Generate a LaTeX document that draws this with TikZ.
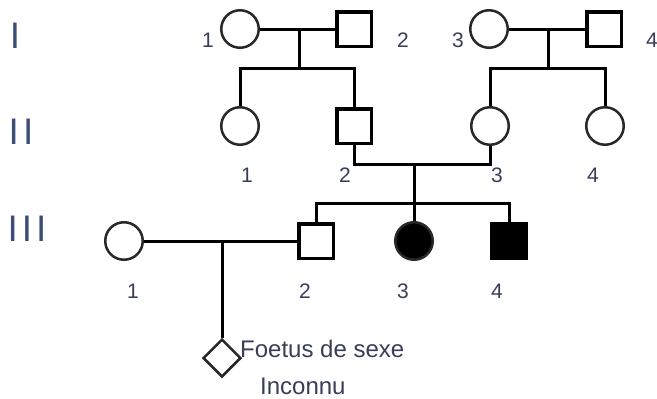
\documentclass[tikz,border=0pt]{standalone}
\usepackage{fontspec}
\setmainfont{Liberation Sans}
\usetikzlibrary{shapes.geometric}
\definecolor{txt}{RGB}{55,62,88}
\definecolor{gen}{RGB}{60,78,118}
\definecolor{ring}{RGB}{40,40,40}
\tikzset{
  x=1pt, y=-1pt,
  fem/.style={circle, draw=ring, line width=2.5pt, minimum size=37.5pt, inner sep=0pt},
  male/.style={rectangle, draw=black, line width=3.5pt, minimum size=34.5pt, inner sep=0pt},
  unk/.style={diamond, draw=ring, line width=2.5pt, minimum width=38pt, minimum height=38pt, inner sep=0pt},
  aff/.style={fill=black},
  link/.style={draw=black, line width=3pt},
  num/.style={text=txt, font=\fontsize{21}{21}\selectfont, inner sep=0pt},
  genl/.style={text=gen, font=\fontsize{37}{37}\selectfont, inner sep=0pt},
  note/.style={text=txt, font=\fontsize{24}{24}\selectfont, inner sep=0pt, anchor=base west}
}
\begin{document}
\begin{tikzpicture}
\useasboundingbox (0,0) rectangle (657,399);
% generation labels
\node[genl] (gI) at (15,36) {I};
\node[genl] (gII) at (21,132) {I\hspace{4pt}I};
\node[genl] (gIII) at (27,229) {I\hspace{4pt}I\hspace{4pt}I};
% generation I
\node[fem] (I1) at (240,29) {};
\node[male] (I2) at (354,29) {};
\node[fem] (I3) at (489,29) {};
\node[male] (I4) at (604,29) {};
% generation II
\node[fem] (II1) at (240,126) {};
\node[male] (II2) at (354,126) {};
\node[fem] (II3) at (490,126) {};
\node[fem] (II4) at (605,126) {};
% generation III
\node[fem] (III1) at (124,241) {};
\node[male] (III2) at (316,241) {};
\node[fem, aff] (III3) at (414,241) {};
\node[male, aff] (III4) at (509,241) {};
\node[unk] (F) at (222,358) {};
% coordinates
\coordinate (m1) at (299,29);
\coordinate (s1) at (299,68);
\coordinate (m2) at (548,29);
\coordinate (s2) at (548,68);
\coordinate (m3) at (414,164);
\coordinate (s3) at (414,203);
\coordinate (m4) at (222,241);
% connectors
\draw[link] (I1) -- (I2);
\draw[link] (m1) -- (s1);
\draw[link] (II1.north) |- (s1) -| (II2.north);
\draw[link] (I3) -- (I4);
\draw[link] (m2) -- (s2);
\draw[link] (II3.north) |- (s2) -| (II4.north);
\draw[link] (II2.south) |- (m3) -| (II3.south);
\draw[link] (m3) -- (III3.north);
\draw[link] (III2.north) |- (s3) -| (III4.north);
\draw[link] (III1) -- (III2);
\draw[link] (m4) -- (F.north);
% numbers
\node[num] (nI1) at (208,40) {1};
\node[num] (nI2) at (403,40) {2};
\node[num] (nI3) at (458,40) {3};
\node[num] (nI4) at (652,40) {4};
\node[num] (nII1) at (247,175) {1};
\node[num] (nII2) at (345,175) {2};
\node[num] (nII3) at (497,175) {3};
\node[num] (nII4) at (593,175) {4};
\node[num] (nIII1) at (133,291) {1};
\node[num] (nIII2) at (305,291) {2};
\node[num] (nIII3) at (403,291) {3};
\node[num] (nIII4) at (497,291) {4};
% foetus note
\node[note] (t1) at (240,357) {Foetus de sexe};
\node[note] (t2) at (260,394) {Inconnu};
\end{tikzpicture}
\end{document}
